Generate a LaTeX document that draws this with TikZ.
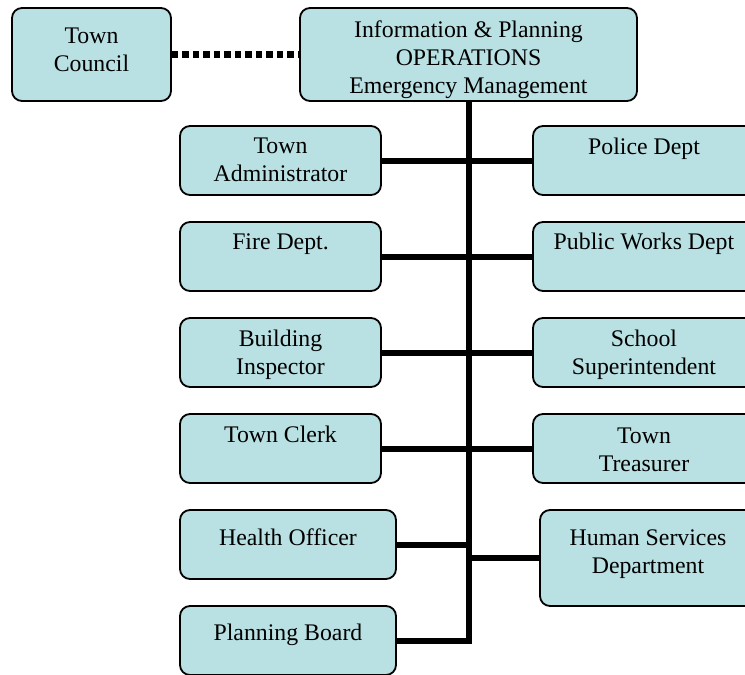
\documentclass[tikz,border=0pt]{standalone}
\usepackage{fontspec}
\setmainfont{Liberation Serif}
\definecolor{boxfill}{RGB}{185,224,226}
\begin{document}
\begin{tikzpicture}[x=1pt,y=-1pt,
  orgbox/.style={draw=black, line width=1.8pt, fill=boxfill, rounded corners=10pt,
    inner sep=0pt, minimum width=#1},
  orgbox/.default=201pt,
  lbl/.style={align=center, inner sep=0pt, font=\fontsize{23.8}{28}\selectfont},
  conn/.style={line width=6pt},
  dots/.style={line width=6.5pt, dash pattern=on 6.5pt off 4pt}]
\useasboundingbox (0,0) rectangle (745,675);
\clip (0,0) rectangle (745,675);
% top row
\node[orgbox=159pt, minimum height=93pt] (tc) at (91.5,54.5) {};
\node[orgbox=337pt, minimum height=93pt] (top) at (468.5,54.5) {};
% left column
\node[orgbox, minimum height=69pt] (ta) at (280.5,160.5) {};
\node[orgbox, minimum height=69pt] (fd) at (280.5,256.5) {};
\node[orgbox, minimum height=69pt] (bi) at (280.5,352.5) {};
\node[orgbox, minimum height=69pt] (tk) at (280.5,448.5) {};
\node[orgbox=216pt, minimum height=69pt] (ho) at (288,544.5) {};
\node[orgbox=216pt, minimum height=69pt] (pb) at (288,640.5) {};
% right column
\node[orgbox=222pt, minimum height=69pt] (pd) at (644,160.5) {};
\node[orgbox=222pt, minimum height=69pt] (pw) at (644,256.5) {};
\node[orgbox=222pt, minimum height=69pt] (ss) at (644,352.5) {};
\node[orgbox=222pt, minimum height=69pt] (tt) at (644,448.5) {};
\node[orgbox=216pt, minimum height=96pt] (hs) at (648,558) {};
% labels
\node[lbl] (tc-t) at (91.5,52) {\strut Town\\\strut Council};
\node[lbl] (top-t) at (468.5,59.5) {\strut Information \& Planning\\\strut OPERATIONS\\\strut Emergency Management};
\node[lbl] (ta-t) at (280.5,162) {\strut Town\\\strut Administrator};
\node[lbl] (fd-t) at (280.5,244) {\strut Fire Dept.};
\node[lbl] (bi-t) at (280.5,355) {\strut Building\\\strut Inspector};
\node[lbl] (tk-t) at (280.5,437) {\strut Town Clerk};
\node[lbl] (ho-t) at (288,540) {\strut Health Officer};
\node[lbl] (pb-t) at (288,635) {\strut Planning Board};
\node[lbl] (pd-t) at (644,149) {\strut Police Dept};
\node[lbl] (pw-t) at (644,244) {\strut Public Works Dept};
\node[lbl] (ss-t) at (644,355) {\strut School\\\strut Superintendent};
\node[lbl] (tt-t) at (644,452) {\strut Town\\\strut Treasurer};
\node[lbl] (hs-t) at (648,554) {\strut Human Services\\\strut Department};
% connectors
\draw[dots] (tc.east) -- (top.west);
\draw[conn] (ta.east) -- (pd.west);
\draw[conn] (fd.east) -- (pw.west);
\draw[conn] (bi.east) -- (ss.west);
\draw[conn] (tk.east) -- (tt.west);
\draw[conn] (ho.east) -- (ho.east -| top.south);
\draw[conn] (hs.west) -- (hs.west -| top.south);
\draw[conn] (top.south) |- (pb.east);
\end{tikzpicture}
\end{document}
